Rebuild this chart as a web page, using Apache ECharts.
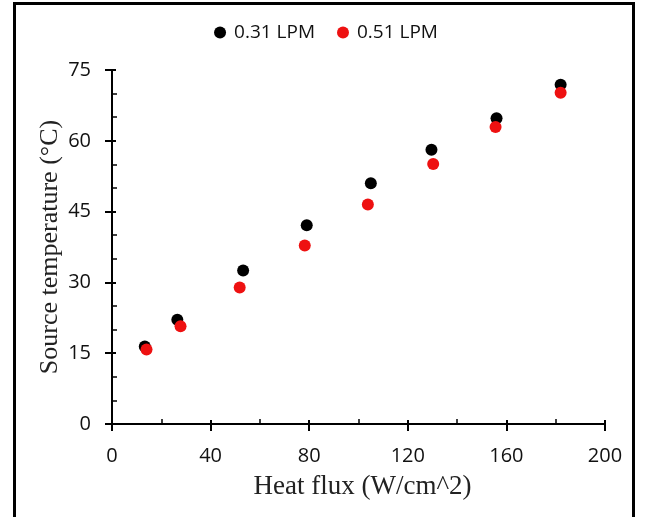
<!doctype html>
<html>
	<head>
		<meta charset="utf-8">
		<title>Source temperature</title>
		<script src="https://cdn.jsdelivr.net/npm/echarts@6/dist/echarts.min.js"></script>
		<style>
			body { margin: 0; background: #fff; }
			#wrap { position: relative; width: 652px; height: 517px; overflow: hidden; }
			#chart { width: 652px; height: 517px; }
			#frame {
				position: absolute; left: 13px; top: 2px; width: 616px; height: 560px;
				border: 3px solid #000; pointer-events: none;
			}
		</style>
	</head>
	<body>
		<div id="wrap">
			<div id="chart"></div>
			<div id="frame"></div>
		</div>
		<script type="text/javascript">
			// heat flux (W/cm^2) and source temperature (°C)
			var flux031 = [13.3, 26.5, 53.2, 79.0, 105.0, 129.6, 156.0, 182.0];
			var temp031 = [16.4, 22.1, 32.5, 42.1, 51.0, 58.1, 64.8, 71.9];
			var flux051 = [14.0, 27.8, 51.8, 78.2, 103.8, 130.3, 155.6, 182.0];
			var temp051 = [15.8, 20.7, 28.9, 37.8, 46.5, 55.1, 62.9, 70.2];
			var xTicks = [0, 40, 80, 120, 160, 200];
			var yTicks = [0, 15, 30, 45, 60, 75];

			function pairs(xs, ys) {
				return xs.map(function (x, i) { return [x, ys[i]]; });
			}

			var plotBox = { left: 112, right: 47, top: 70, bottom: 93 };
			var tickStyle = { color: '#000', width: 2 };
			var labelFont = { color: '#111', fontSize: 20, fontFamily: 'Open Sans, Liberation Sans, sans-serif' };
			var nameFont = { color: '#222', fontFamily: 'Liberation Serif, serif' };

			var option = {
				backgroundColor: '#fff',
				animation: false,
				legend: {
					top: 18,
					left: 'center',
					itemWidth: 12,
					itemHeight: 12,
					itemGap: 22,
					textStyle: { color: '#111', fontSize: 19, fontFamily: 'Open Sans, Liberation Sans, sans-serif', padding: [0, 0, 0, 3] },
					data: [{ name: '0.31 LPM', icon: 'circle' }, { name: '0.51 LPM', icon: 'circle' }]
				},
				grid: [plotBox, plotBox],
				xAxis: [{
					gridIndex: 0,
					type: 'value',
					min: xTicks[0], max: xTicks[xTicks.length - 1], interval: 40,
					name: 'Heat flux (W/cm^2)',
					nameLocation: 'middle',
					nameGap: 49,
					nameMoveOverlap: false,
					nameTextStyle: Object.assign({ fontSize: 27, padding: [0, 0, 0, 8] }, nameFont),
					axisLine: { lineStyle: { color: '#000', width: 2 } },
					axisTick: { length: 7, lineStyle: tickStyle },
					minorTick: { show: true, splitNumber: 2, length: -5, lineStyle: { color: '#000', width: 1.5 } },
					axisLabel: Object.assign({ margin: 22 }, labelFont),
					splitLine: { show: false }
				}, {
					// inner half of the major ticks, so they cross the axis line
					gridIndex: 1,
					type: 'value',
					min: xTicks[0], max: xTicks[xTicks.length - 1], interval: 40,
					axisLine: { show: false },
					axisTick: { length: -4, lineStyle: tickStyle },
					axisLabel: { show: false },
					splitLine: { show: false }
				}],
				yAxis: [{
					gridIndex: 0,
					type: 'value',
					min: yTicks[0], max: yTicks[yTicks.length - 1], interval: 15,
					name: 'Source temperature (°C)',
					nameLocation: 'middle',
					nameGap: 49,
					nameMoveOverlap: false,
					nameTextStyle: Object.assign({ fontSize: 26 }, nameFont),
					axisLine: { lineStyle: { color: '#000', width: 2 } },
					axisTick: { length: 7, lineStyle: tickStyle },
					minorTick: { show: true, splitNumber: 3, length: -5, lineStyle: { color: '#000', width: 1.5 } },
					axisLabel: Object.assign({ margin: 21 }, labelFont),
					splitLine: { show: false }
				}, {
					gridIndex: 1,
					type: 'value',
					min: yTicks[0], max: yTicks[yTicks.length - 1], interval: 15,
					axisLine: { show: false },
					axisTick: { length: -4, lineStyle: tickStyle },
					axisLabel: { show: false },
					splitLine: { show: false }
				}],
				series: [
					{
						name: '0.31 LPM',
						type: 'scatter',
						symbolSize: 12,
						itemStyle: { color: '#000', opacity: 1 },
						data: pairs(flux031, temp031)
					},
					{
						name: '0.51 LPM',
						type: 'scatter',
						symbolSize: 12,
						itemStyle: { color: '#ee1111', opacity: 1 },
						data: pairs(flux051, temp051)
					}
				]
			};

			var myChart = echarts.init(document.getElementById('chart'));
			myChart.setOption(option);
		</script>
	</body>
</html>
